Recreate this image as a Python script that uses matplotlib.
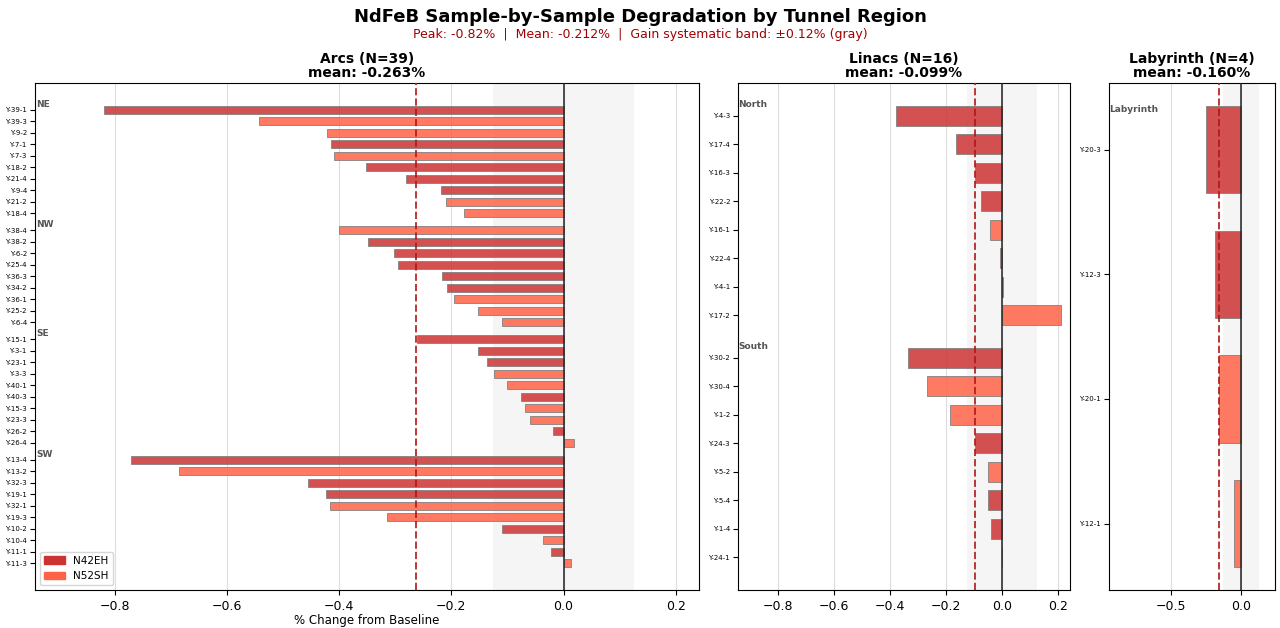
import numpy as np
import matplotlib.pyplot as plt
from matplotlib.patches import Patch
from matplotlib.transforms import blended_transform_factory

# grade colours, systematic band (+/- %)
grade_colors = {'N42EH': '#cc3333', 'N52SH': '#ff6347'}
band = 0.125

# --- Arcs ---
arcs_groups = ['NE', 'NW', 'SE', 'SW']
arcs_sizes = [10, 9, 10, 10]
arcs_ids = ['Y-39-1', 'Y-39-3', 'Y-9-2', 'Y-7-1', 'Y-7-3', 'Y-18-2', 'Y-21-4', 'Y-9-4', 'Y-21-2', 'Y-18-4',
            'Y-38-4', 'Y-38-2', 'Y-6-2', 'Y-25-4', 'Y-36-3', 'Y-34-2', 'Y-36-1', 'Y-25-2', 'Y-6-4',
            'Y-15-1', 'Y-3-1', 'Y-23-1', 'Y-3-3', 'Y-40-1', 'Y-40-3', 'Y-15-3', 'Y-23-3', 'Y-26-2', 'Y-26-4',
            'Y-13-4', 'Y-13-2', 'Y-32-3', 'Y-19-1', 'Y-32-1', 'Y-19-3', 'Y-10-2', 'Y-10-4', 'Y-11-1', 'Y-11-3']
arcs_vals = [-0.820, -0.543, -0.421, -0.415, -0.410, -0.352, -0.280, -0.219, -0.210, -0.177,
             -0.400, -0.348, -0.303, -0.295, -0.217, -0.208, -0.196, -0.152, -0.109,
             -0.262, -0.152, -0.136, -0.124, -0.101, -0.075, -0.068, -0.059, -0.018, 0.019,
             -0.771, -0.686, -0.455, -0.424, -0.416, -0.314, -0.110, -0.036, -0.023, 0.013]
arcs_grades = ['N42EH', 'N52SH', 'N52SH', 'N42EH', 'N52SH', 'N42EH', 'N42EH', 'N42EH', 'N52SH', 'N52SH',
               'N52SH', 'N42EH', 'N42EH', 'N42EH', 'N42EH', 'N42EH', 'N52SH', 'N52SH', 'N52SH',
               'N42EH', 'N42EH', 'N42EH', 'N52SH', 'N52SH', 'N42EH', 'N52SH', 'N52SH', 'N42EH', 'N52SH',
               'N42EH', 'N52SH', 'N42EH', 'N42EH', 'N52SH', 'N52SH', 'N42EH', 'N52SH', 'N42EH', 'N52SH']

# --- Linacs ---
lin_groups = ['North', 'South']
lin_sizes = [8, 8]
lin_ids = ['Y-4-3', 'Y-17-4', 'Y-16-3', 'Y-22-2', 'Y-16-1', 'Y-22-4', 'Y-4-1', 'Y-17-2',
           'Y-30-2', 'Y-30-4', 'Y-1-2', 'Y-24-3', 'Y-5-2', 'Y-5-4', 'Y-1-4', 'Y-24-1']
lin_vals = [-0.380, -0.164, -0.097, -0.075, -0.045, -0.007, 0.003, 0.210,
            -0.335, -0.270, -0.185, -0.098, -0.050, -0.050, -0.040, 0.000]
lin_grades = ['N42EH', 'N42EH', 'N42EH', 'N42EH', 'N52SH', 'N52SH', 'N42EH', 'N52SH',
              'N42EH', 'N52SH', 'N52SH', 'N42EH', 'N52SH', 'N42EH', 'N42EH', 'N52SH']

# --- Labyrinth ---
lab_groups = ['Labyrinth']
lab_sizes = [4]
lab_ids = ['Y-20-3', 'Y-12-3', 'Y-20-1', 'Y-12-1']
lab_vals = [-0.250, -0.182, -0.160, -0.048]
lab_grades = ['N42EH', 'N42EH', 'N52SH', 'N52SH']

regions = [('Arcs', arcs_groups, arcs_sizes, arcs_ids, arcs_vals, arcs_grades),
           ('Linacs', lin_groups, lin_sizes, lin_ids, lin_vals, lin_grades),
           ('Labyrinth', lab_groups, lab_sizes, lab_ids, lab_vals, lab_grades)]

all_vals = np.array(arcs_vals + lin_vals + lab_vals)
xlo, xhi = all_vals.min() * 1.15, all_vals.max() * 1.15

fig = plt.figure(figsize=(12.8, 6.28), dpi=100)
gs = fig.add_gridspec(1, 3, width_ratios=[4, 2, 1], left=0.027, right=0.996,
                      top=0.868, bottom=0.06, wspace=0.1)

for i, (name, groups, sizes, ids, vals, grades) in enumerate(regions):
    ax = fig.add_subplot(gs[0, i])
    pos, label_pos = [], []
    y = 0.0
    for g, n in zip(groups, sizes):
        label_pos.append(y)
        for _ in range(n):
            pos.append(y)
            y += 1
        y += 0.5
    ax.barh(pos, vals, height=0.7, color=[grade_colors[g] for g in grades],
            edgecolor='gray', linewidth=0.7, alpha=0.85, zorder=3)
    ax.invert_yaxis()
    ax.set_yticks(pos)
    ax.set_yticklabels(ids, fontsize=5)
    ax.tick_params(axis='y', pad=2)
    ax.axvspan(-band, band, color='gray', alpha=0.08, zorder=0, lw=0)
    ax.axvline(0, color='#222222', lw=1.1, zorder=4)
    m = np.mean(vals)
    ax.axvline(m, color='#b01515', ls='--', lw=1.4, alpha=0.85, zorder=5)
    ax.grid(axis='x', color='#dddddd', lw=0.8)
    ax.set_axisbelow(True)
    ax.set_xlim(xlo, xhi)
    ax.tick_params(axis='x', labelsize=9)
    ax.set_title('%s (N=%d)\nmean: %.3f%%' % (name, len(vals), m),
                 fontsize=10, fontweight='bold', linespacing=1.0, pad=4)
    tr = blended_transform_factory(ax.transAxes, ax.transData)
    for g, lp in zip(groups, label_pos):
        ax.text(0.002, lp - 0.3, g, transform=tr, fontsize=6.5, fontweight='bold',
                color='#555555', va='baseline', ha='left')
    if i == 0:
        ax.set_xlabel('% Change from Baseline', fontsize=8.5, labelpad=1)
        handles = [Patch(color=grade_colors[k], label=k) for k in grade_colors]
        ax.legend(handles=handles, loc='lower left', fontsize=7.5)

fig.suptitle('NdFeB Sample-by-Sample Degradation by Tunnel Region',
             fontsize=13, fontweight='bold', y=0.988)
fig.text(0.5, 0.94, 'Peak: %.2f%%  |  Mean: %.3f%%  |  Gain systematic band: \u00b1%.2f%% (gray)'
         % (all_vals.min(), all_vals.mean(), band),
         ha='center', fontsize=9, color='#a00000')

plt.savefig('out.png', dpi=100)
